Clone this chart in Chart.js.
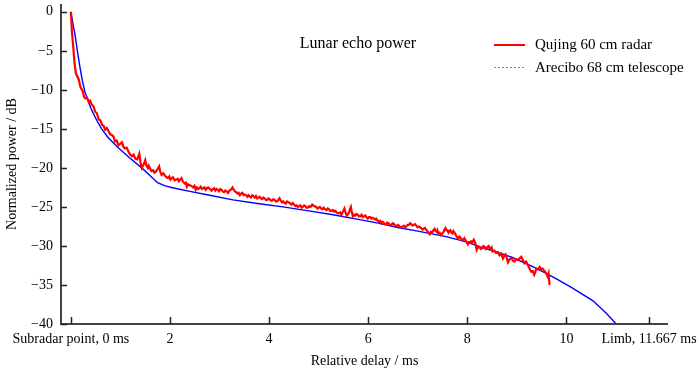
<!DOCTYPE html>
<html><head><meta charset="utf-8">
<script src="https://cdn.jsdelivr.net/npm/chart.js@4/dist/chart.umd.min.js"></script>
<style>html,body{margin:0;padding:0;background:#fff}#wrap{width:700px;height:371px;position:relative}</style>
</head><body><div id="wrap"><canvas id="c" width="700" height="371"></canvas></div>
<script>
const chartTitle = 'Lunar echo power';
const seriesNames = ['Qujing 60 cm radar', 'Arecibo 68 cm telescope'];
const xTickValues = [0, 2, 4, 6, 8, 10, 11.667];
const xTickLabels = ['Subradar point, 0 ms', '2', '4', '6', '8', '10', 'Limb, 11.667 ms'];
const yTickValues = [0, -5, -10, -15, -20, -25, -30, -35, -40];
const xAxisTitle = 'Relative delay / ms';
const yAxisTitle = 'Normalized power / dB';

// Qujing 60 cm radar (red, measured): [delay ms, power dB]
const qujing = [[0,0],[0.02,-2.5],[0.05,-4.7],[0.07,-6.4],[0.10,-7.9],[0.13,-8.3],[0.16,-8.7],[0.19,-9.6],[0.24,-10.2],[0.265,-10.9],[0.29,-11.1],[0.325,-11.0],[0.36,-11.5],[0.39,-11.4],[0.42,-11.9],[0.455,-12.1],[0.49,-12.8],[0.525,-13.0],[0.56,-13.8],[0.595,-13.9],[0.63,-14.5],[0.66,-14.6],[0.69,-15.1],[0.725,-14.9],[0.76,-15.3],[0.795,-15.7],[0.83,-15.8],[0.86,-16.0],[0.89,-16.6],[0.925,-16.5],[0.96,-17.1],[0.995,-16.9],[1.03,-16.7],[1.06,-17.3],[1.09,-17.5],[1.125,-17.4],[1.16,-17.9],[1.195,-18.3],[1.23,-18.5],[1.265,-18.3],[1.30,-18.8],[1.34,-18.9],[1.38,-18.2],[1.405,-19.3],[1.43,-20.0],[1.465,-19.6],[1.50,-19.0],[1.525,-19.7],[1.55,-20.0],[1.57,-19.7],[1.59,-20.0],[1.625,-20.4],[1.66,-20.3],[1.685,-20.6],[1.71,-20.5],[1.745,-20.2],[1.78,-19.8],[1.805,-20.5],[1.83,-20.9],[1.865,-20.7],[1.90,-21.0],[1.93,-21.2],[1.96,-21.3],[1.985,-21.1],[2.01,-21.5],[2.035,-21.3],[2.06,-21.2],[2.095,-21.6],[2.13,-21.5],[2.155,-21.4],[2.18,-21.7],[2.205,-21.5],[2.23,-21.3],[2.265,-21.8],[2.30,-22.0],[2.32,-21.9],[2.34,-22.4],[2.365,-22.1],[2.39,-22.2],[2.43,-22.3],[2.47,-22.5],[2.495,-22.3],[2.52,-22.8],[2.545,-22.5],[2.57,-22.7],[2.595,-22.6],[2.62,-22.4],[2.645,-22.7],[2.67,-22.6],[2.695,-22.5],[2.72,-22.8],[2.745,-22.6],[2.77,-22.5],[2.805,-22.7],[2.84,-22.9],[2.865,-22.7],[2.89,-22.6],[2.915,-22.9],[2.94,-22.7],[2.965,-22.8],[2.99,-23.0],[3.015,-22.7],[3.04,-22.8],[3.065,-23.0],[3.09,-23.1],[3.115,-22.9],[3.14,-23.0],[3.17,-23.2],[3.20,-22.9],[3.23,-22.8],[3.26,-22.5],[3.285,-22.8],[3.31,-23.0],[3.335,-23.1],[3.36,-23.3],[3.385,-23.2],[3.41,-23.5],[3.435,-23.3],[3.46,-23.2],[3.485,-23.5],[3.51,-23.4],[3.535,-23.5],[3.56,-23.7],[3.585,-23.5],[3.61,-23.7],[3.635,-23.8],[3.66,-23.5],[3.685,-23.6],[3.71,-23.8],[3.735,-23.6],[3.76,-23.9],[3.785,-23.8],[3.81,-23.7],[3.835,-23.9],[3.86,-24.0],[3.885,-23.8],[3.91,-23.9],[3.935,-24.1],[3.96,-24.1],[3.985,-23.9],[4.01,-24.0],[4.035,-24.2],[4.06,-24.2],[4.085,-24.0],[4.11,-24.1],[4.135,-24.3],[4.16,-24.3],[4.185,-24.1],[4.21,-23.9],[4.235,-24.2],[4.26,-24.4],[4.285,-24.3],[4.31,-24.5],[4.335,-24.6],[4.36,-24.3],[4.39,-24.4],[4.42,-24.5],[4.45,-24.7],[4.48,-24.5],[4.505,-24.7],[4.53,-24.9],[4.555,-24.8],[4.58,-25.0],[4.605,-24.9],[4.63,-24.8],[4.655,-25.1],[4.68,-25.0],[4.705,-24.8],[4.73,-24.9],[4.755,-25.1],[4.78,-25.1],[4.805,-24.9],[4.83,-25.0],[4.85,-24.9],[4.87,-24.7],[4.91,-24.9],[4.95,-25.0],[4.975,-25.2],[5.00,-25.1],[5.025,-25.0],[5.05,-25.2],[5.075,-25.3],[5.10,-25.1],[5.13,-25.3],[5.16,-25.4],[5.185,-25.2],[5.21,-25.3],[5.235,-25.5],[5.26,-25.5],[5.285,-25.4],[5.31,-25.6],[5.335,-25.5],[5.36,-25.7],[5.385,-25.8],[5.41,-25.8],[5.435,-25.7],[5.46,-26.0],[5.49,-25.6],[5.52,-25.2],[5.545,-25.8],[5.57,-26.1],[5.59,-25.9],[5.61,-25.8],[5.63,-25.3],[5.65,-25.0],[5.67,-25.7],[5.69,-26.2],[5.715,-26.0],[5.74,-26.1],[5.765,-25.9],[5.79,-26.0],[5.815,-26.2],[5.84,-26.2],[5.865,-26.0],[5.89,-26.3],[5.915,-26.2],[5.94,-26.1],[5.965,-26.3],[5.99,-26.5],[6.015,-26.3],[6.04,-26.3],[6.065,-26.5],[6.09,-26.4],[6.115,-26.5],[6.14,-26.6],[6.16,-26.5],[6.18,-26.7],[6.20,-26.8],[6.22,-26.9],[6.24,-26.8],[6.26,-27.1],[6.285,-26.9],[6.31,-27.0],[6.335,-27.2],[6.36,-27.2],[6.385,-27.0],[6.41,-27.1],[6.44,-27.3],[6.47,-27.3],[6.495,-27.1],[6.52,-27.2],[6.545,-27.4],[6.57,-27.5],[6.595,-27.3],[6.62,-27.4],[6.645,-27.6],[6.67,-27.6],[6.695,-27.5],[6.72,-27.4],[6.745,-27.6],[6.77,-27.5],[6.795,-27.3],[6.82,-27.3],[6.845,-27.1],[6.87,-27.2],[6.895,-27.4],[6.92,-27.3],[6.945,-27.2],[6.97,-27.4],[6.995,-27.6],[7.02,-27.5],[7.045,-27.6],[7.07,-27.7],[7.095,-27.9],[7.12,-27.8],[7.145,-27.7],[7.17,-27.9],[7.205,-28.2],[7.24,-28.5],[7.265,-28.2],[7.29,-28.3],[7.315,-28.0],[7.34,-27.8],[7.36,-28.1],[7.38,-28.2],[7.395,-28.0],[7.41,-28.4],[7.44,-28.3],[7.47,-28.6],[7.495,-28.4],[7.52,-28.2],[7.54,-27.9],[7.56,-27.7],[7.58,-28.0],[7.60,-28.0],[7.62,-28.3],[7.64,-28.1],[7.66,-28.0],[7.68,-28.3],[7.70,-28.4],[7.72,-28.1],[7.74,-28.3],[7.76,-28.5],[7.785,-28.8],[7.81,-29.0],[7.845,-28.8],[7.88,-29.1],[7.91,-29.3],[7.94,-29.0],[7.975,-29.4],[8.01,-29.8],[8.03,-29.5],[8.05,-29.5],[8.065,-29.6],[8.08,-29.4],[8.105,-29.5],[8.13,-29.2],[8.16,-29.6],[8.19,-30.5],[8.22,-30.1],[8.25,-30.2],[8.275,-30.4],[8.30,-30.3],[8.325,-30.0],[8.35,-30.1],[8.37,-30.4],[8.39,-30.3],[8.41,-30.1],[8.43,-30.0],[8.45,-30.3],[8.47,-30.4],[8.49,-30.2],[8.51,-30.7],[8.545,-30.6],[8.58,-30.9],[8.615,-30.8],[8.65,-31.2],[8.685,-31.0],[8.72,-31.6],[8.745,-31.3],[8.77,-31.1],[8.795,-31.5],[8.82,-32.1],[8.855,-31.7],[8.89,-31.5],[8.92,-31.9],[8.95,-32.0],[8.985,-31.7],[9.02,-31.8],[9.055,-31.6],[9.09,-31.4],[9.12,-31.8],[9.15,-32.2],[9.185,-32.0],[9.22,-32.4],[9.255,-32.9],[9.29,-33.3],[9.32,-33.2],[9.35,-33.7],[9.37,-33.4],[9.39,-32.9],[9.425,-33.0],[9.46,-32.7],[9.49,-33.0],[9.52,-32.9],[9.555,-33.2],[9.59,-33.5],[9.62,-33.9],[9.64,-33.5],[9.66,-35.0]];

// Arecibo 68 cm telescope (blue, model)
const areciboX = [0,0.04,0.08,0.13,0.18,0.23,0.28,0.35,0.42,0.52,0.62,0.75,0.95,1.2,1.43,1.6,1.75,1.9,2.1,2.4,2.8,3.27,3.8,4.28,4.8,5.29,5.8,6.23,6.57,7.0,7.57,8.0,8.25,8.6,8.92,9.3,9.59,9.79,10.1,10.53,10.8,11.05];
const areciboY = [0,-1.5,-2.8,-5.0,-7.0,-8.8,-10.2,-11.5,-12.6,-13.9,-15.0,-16.1,-17.4,-18.8,-20.0,-21.0,-21.9,-22.3,-22.6,-23.0,-23.5,-24.1,-24.6,-25.0,-25.5,-26.0,-26.6,-27.1,-27.6,-28.1,-28.8,-29.5,-30.1,-30.8,-31.5,-32.6,-33.5,-34.2,-35.3,-37.0,-38.6,-40.3];

const FONT = "'Liberation Serif', 'Times New Roman', serif";
const AXIS_COLOR = '#444';

const decorPlugin = {
  id: 'decor',
  afterDraw(chart) {
    const ctx = chart.ctx, a = chart.chartArea;
    const xs = chart.scales.x, ys = chart.scales.y;
    ctx.save();
    ctx.strokeStyle = AXIS_COLOR; ctx.lineWidth = 2;
    ctx.beginPath();
    ctx.moveTo(a.left, a.top); ctx.lineTo(a.left, a.bottom); ctx.lineTo(a.right, a.bottom);
    ctx.stroke();
    ctx.lineWidth = 1.5; ctx.strokeStyle = '#222';
    ctx.beginPath();
    xTickValues.forEach(v => { const p = Math.round(xs.getPixelForValue(v)) + 0.5; ctx.moveTo(p, a.bottom); ctx.lineTo(p, a.bottom - 7); });
    yTickValues.forEach(v => { const p = Math.round(ys.getPixelForValue(v)) + 0.5; ctx.moveTo(a.left, p); ctx.lineTo(a.left + 6, p); });
    ctx.stroke();
    ctx.fillStyle = '#000';
    ctx.font = '16px ' + FONT;
    ctx.textAlign = 'center'; ctx.textBaseline = 'middle';
    ctx.fillText(chartTitle, 358, 44);
    ctx.font = '15px ' + FONT; ctx.textAlign = 'left';
    ctx.strokeStyle = '#ff0000'; ctx.lineWidth = 2;
    ctx.beginPath(); ctx.moveTo(494, 45); ctx.lineTo(525, 45); ctx.stroke();
    ctx.fillText(seriesNames[0], 535, 45);
    ctx.strokeStyle = '#888'; ctx.lineWidth = 1; ctx.setLineDash([2, 2]);
    ctx.beginPath(); ctx.moveTo(494, 67.5); ctx.lineTo(525, 67.5); ctx.stroke();
    ctx.setLineDash([]);
    ctx.fillText(seriesNames[1], 535, 68);
    ctx.restore();
  }
};

new Chart(document.getElementById('c'), {
  type: 'line',
  data: {
    datasets: [
      { label: seriesNames[0], data: qujing.map(p => ({ x: p[0], y: p[1] })), borderColor: '#ff0000', borderWidth: 2.2, pointRadius: 0, tension: 0 },
      { label: seriesNames[1], data: areciboX.map((x, i) => ({ x, y: areciboY[i] })), borderColor: '#0000ff', borderWidth: 1.4, pointRadius: 0, tension: 0 }
    ]
  },
  options: {
    responsive: false, animation: false, devicePixelRatio: 1,
    layout: { padding: { top: 4, right: 32, left: 0, bottom: 0 } },
    plugins: { legend: { display: false }, tooltip: { enabled: false } },
    scales: {
      x: {
        type: 'linear', min: -0.2, max: 12.05,
        afterBuildTicks: s => { s.ticks = xTickValues.map(v => ({ value: v })); },
        afterFit: s => { s.height = 47; s.paddingLeft = 0; s.paddingRight = 0; },
        grid: { display: false, drawTicks: false }, border: { display: false },
        ticks: { autoSkip: false, maxRotation: 0, padding: 7, color: '#000', font: { family: FONT, size: 14 },
          callback: (v, i) => xTickLabels[i] },
        title: { display: true, text: xAxisTitle, color: '#000', font: { family: FONT, size: 14 }, padding: { top: 0, bottom: 1 } }
      },
      y: {
        min: -40, max: 1,
        afterBuildTicks: s => { s.ticks = yTickValues.map(v => ({ value: v })); },
        afterFit: s => { s.width = 61; s.paddingTop = 0; s.paddingBottom = 0; },
        grid: { display: false, drawTicks: false }, border: { display: false },
        ticks: { padding: 8, color: '#000', font: { family: FONT, size: 14 },
          callback: v => (v < 0 ? '\u2212' + Math.abs(v) : String(v)) },
        title: { display: true, text: yAxisTitle, color: '#000', font: { family: FONT, size: 14 }, padding: { top: 4, bottom: 0 } }
      }
    }
  },
  plugins: [decorPlugin]
});
</script></body></html>
